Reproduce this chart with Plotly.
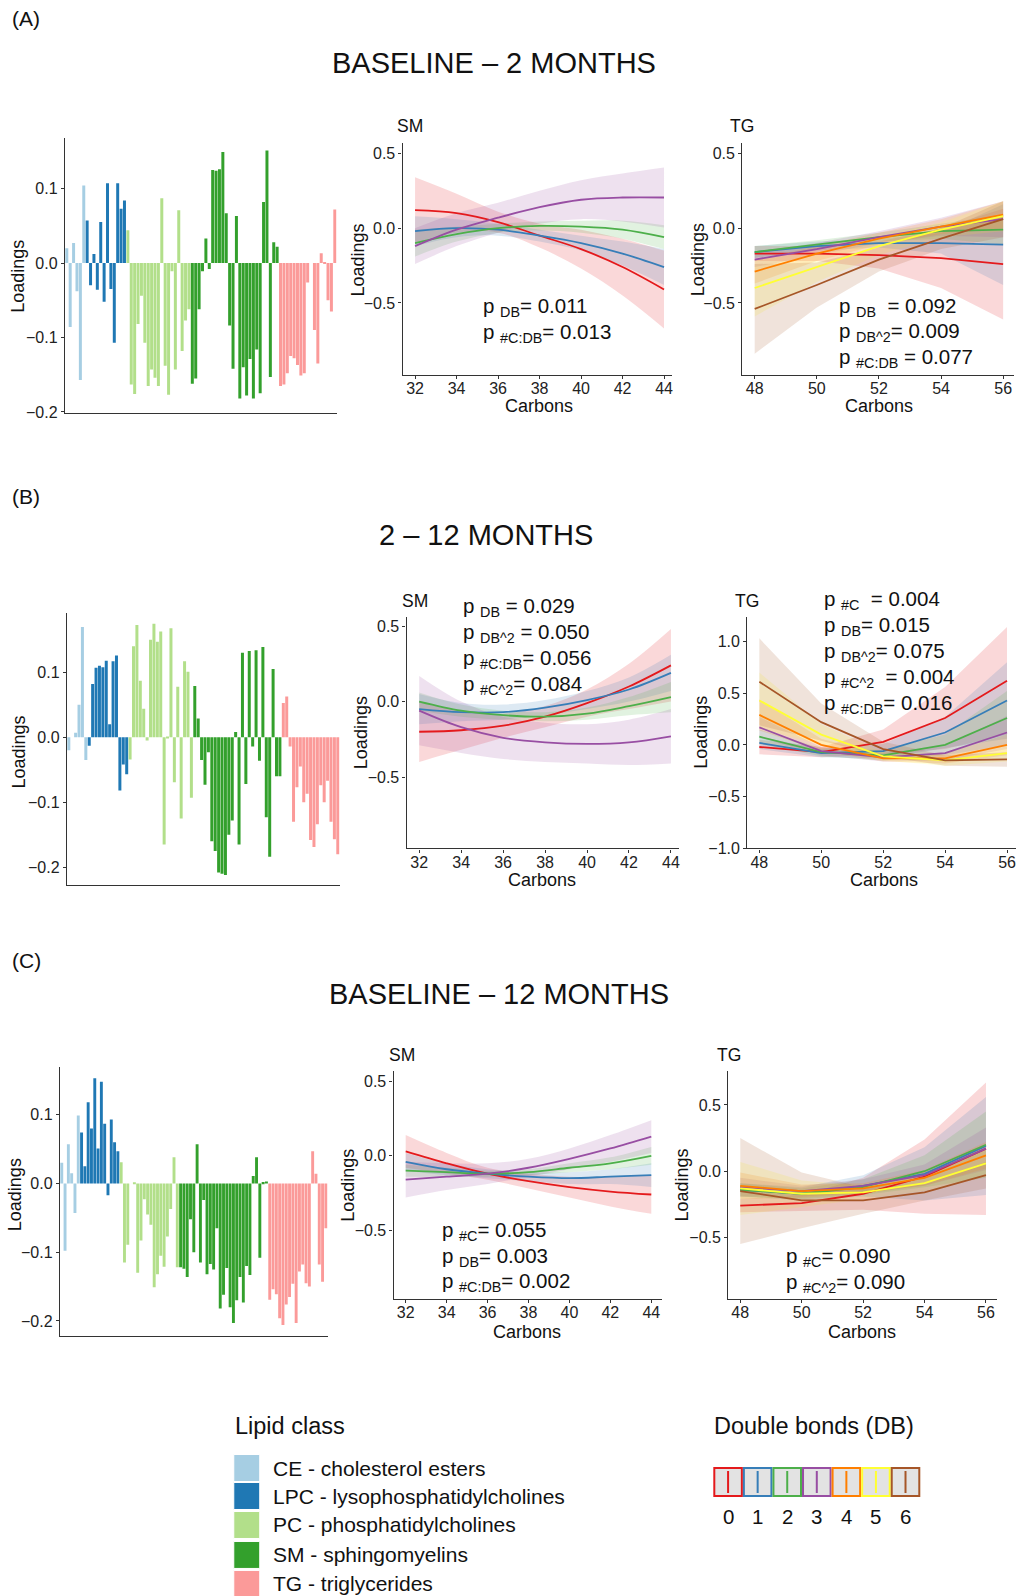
import plotly.graph_objects as go

W, H = 1017, 1596
YS = 1.005  # vertical calibration of pixel positions
FONT = "Liberation Sans, Arial, Helvetica, sans-serif"
AXC = "#333333"

# ---------------- Lipid classes ----------------
CLASS_NAMES = ["CE - cholesterol esters", "LPC - lysophosphatidylcholines",
               "PC - phosphatidylcholines", "SM - sphingomyelins", "TG - triglycerides"]
CLASS_COLORS = ["#A6CEE3", "#1F78B4", "#B2DF8A", "#33A02C", "#FB9A99"]

# ---------------- Bar loadings (A) ----------------
A_CE = [0.02, -0.086, 0.027, -0.038, -0.157, 0.104]
A_LPC = [0.057, -0.03, 0.012, -0.036, 0.055, -0.052, 0.107, -0.035, -0.107, 0.107, 0.073, 0.084]
A_PC = [0.044, -0.163, -0.176, -0.082, -0.044, -0.107, -0.165, -0.143, -0.154, -0.165,
        0.087, -0.138, -0.177, -0.011, -0.143, 0.071, -0.118, -0.077, -0.062]
A_SM = [-0.162, -0.155, -0.062, -0.011, 0.033, -0.008, 0.125, 0.124, 0.126, 0.149, 0.067,
        -0.084, -0.142, 0.063, -0.182, -0.14, -0.178, -0.129, -0.182, -0.116, -0.175,
        0.082, 0.151, -0.153, 0.028, 0.022]
A_TG = [-0.165, -0.163, -0.148, -0.125, -0.128, -0.137, -0.151, -0.148, -0.026, 0.0,
        -0.09, -0.135, 0.013, 0.001, -0.05, -0.065, 0.072]

# ---------------- Bar loadings (B) ----------------
B_CE = [-0.02, 0.0, 0.007, 0.05, 0.17, -0.035]
B_LPC = [-0.013, 0.082, 0.107, 0.11, 0.108, 0.118, 0.02, 0.117, 0.126, -0.082, -0.042, -0.057]
B_PC = [-0.034, 0.14, 0.173, 0.087, 0.044, -0.005, 0.15, 0.175, 0.147, 0.163, -0.165,
        -0.001, 0.168, -0.069, 0.078, -0.125, 0.117, 0.101, -0.093]
B_SM = [0.079, 0.029, -0.035, -0.073, -0.023, -0.16, -0.175, -0.208, -0.21, -0.212, -0.15,
        -0.128, 0.008, -0.165, 0.13, -0.072, 0.133, -0.014, 0.134, -0.036, 0.139, -0.123,
        -0.184, 0.105, -0.06, -0.06]
B_TG = [0.053, 0.063, -0.014, -0.13, -0.077, -0.045, -0.1, -0.087, -0.158, -0.169, -0.134,
        -0.074, -0.1, -0.067, -0.13, -0.157, -0.18]

# ---------------- Bar loadings (C) ----------------
C_CE = [0.03, -0.098, 0.057, 0.015, -0.043, 0.099]
C_LPC = [0.074, 0.025, 0.118, 0.08, 0.153, 0.051, 0.148, 0.087, -0.017, 0.093, 0.06, 0.047]
C_PC = [0.031, -0.115, -0.089, 0.0, 0.001, -0.13, -0.083, -0.023, -0.045, -0.06, -0.151,
        -0.132, -0.105, -0.121, -0.077, -0.037, 0.038, -0.122]
C_SM = [-0.122, -0.124, -0.136, -0.052, -0.1, 0.057, -0.115, -0.024, -0.132, -0.117, -0.125,
        -0.065, -0.182, -0.162, -0.123, -0.18, -0.203, -0.17, -0.136, -0.173, -0.12, -0.133,
        0.011, 0.038, -0.108, 0.002, 0.003]
C_TG = [-0.169, -0.154, -0.161, -0.196, -0.206, -0.176, -0.165, -0.146, -0.203, -0.128,
        -0.118, -0.145, -0.15, 0.047, 0.014, -0.118, -0.143, -0.065]

# ---------------- Fitted curves ----------------
SM_CARBONS = [32, 34, 36, 38, 40, 42, 44]
TG_CARBONS = [48, 50, 52, 54, 56]
DB_LABELS = ["0", "1", "2", "3", "4", "5", "6"]
DB_COLORS = ["#E41A1C", "#377EB8", "#4DAF4A", "#984EA3", "#FF7F00", "#FFFF33", "#A65628"]

A_SM_FIT = [[0.12, 0.10, 0.04, -0.05, -0.14, -0.26, -0.41],
            [-0.02, 0.0, -0.01, -0.05, -0.10, -0.17, -0.26],
            [-0.10, -0.04, 0.0, 0.015, 0.01, -0.01, -0.06],
            [-0.12, -0.01, 0.07, 0.14, 0.19, 0.205, 0.205]]
A_SM_HW = [[0.22, 0.13, 0.07, 0.08, 0.13, 0.19, 0.26],
           [0.10, 0.06, 0.04, 0.04, 0.05, 0.08, 0.12],
           [0.09, 0.05, 0.03, 0.03, 0.04, 0.06, 0.08],
           [0.12, 0.11, 0.10, 0.11, 0.13, 0.16, 0.20]]
A_TG_FIT = [[-0.17, -0.17, -0.18, -0.20, -0.24],
            [-0.16, -0.12, -0.10, -0.10, -0.11],
            [-0.16, -0.11, -0.06, -0.02, -0.01],
            [-0.21, -0.14, -0.06, 0.01, 0.06],
            [-0.29, -0.17, -0.07, 0.01, 0.09],
            [-0.40, -0.26, -0.12, -0.01, 0.08],
            [-0.54, -0.38, -0.21, -0.07, 0.06]]
A_TG_HW = [[0.05, 0.05, 0.09, 0.20, 0.37],
           [0.04, 0.03, 0.03, 0.07, 0.27],
           [0.04, 0.03, 0.03, 0.05, 0.10],
           [0.05, 0.04, 0.04, 0.06, 0.12],
           [0.08, 0.05, 0.04, 0.05, 0.09],
           [0.19, 0.10, 0.06, 0.05, 0.10],
           [0.30, 0.15, 0.08, 0.07, 0.12]]

B_SM_FIT = [[-0.20, -0.19, -0.16, -0.10, -0.01, 0.10, 0.24],
            [-0.05, -0.07, -0.07, -0.04, 0.01, 0.08, 0.19],
            [0.0, -0.06, -0.09, -0.10, -0.08, -0.03, 0.03],
            [-0.06, -0.17, -0.24, -0.27, -0.28, -0.27, -0.23]]
B_SM_HW = [[0.20, 0.13, 0.08, 0.07, 0.09, 0.15, 0.24],
           [0.10, 0.06, 0.05, 0.05, 0.06, 0.08, 0.12],
           [0.06, 0.04, 0.03, 0.03, 0.04, 0.06, 0.10],
           [0.23, 0.17, 0.14, 0.13, 0.13, 0.15, 0.18]]
B_TG_FIT = [[-0.02, -0.07, 0.03, 0.26, 0.62],
            [0.02, -0.08, -0.06, 0.12, 0.43],
            [0.08, -0.07, -0.10, 0.0, 0.26],
            [0.17, -0.06, -0.12, -0.08, 0.12],
            [0.29, 0.0, -0.13, -0.13, 0.0],
            [0.43, 0.10, -0.11, -0.15, -0.08],
            [0.61, 0.22, -0.04, -0.15, -0.14]]
B_TG_HW = [[0.07, 0.05, 0.12, 0.30, 0.52],
           [0.06, 0.04, 0.07, 0.15, 0.37],
           [0.07, 0.04, 0.05, 0.10, 0.26],
           [0.10, 0.04, 0.04, 0.07, 0.16],
           [0.15, 0.06, 0.03, 0.05, 0.10],
           [0.27, 0.10, 0.04, 0.05, 0.08],
           [0.42, 0.18, 0.07, 0.05, 0.07]]

C_SM_FIT = [[0.03, -0.05, -0.12, -0.17, -0.21, -0.24, -0.26],
            [-0.04, -0.09, -0.12, -0.14, -0.15, -0.14, -0.13],
            [-0.10, -0.11, -0.12, -0.11, -0.08, -0.05, 0.0],
            [-0.16, -0.14, -0.12, -0.08, -0.02, 0.05, 0.13]]
C_SM_HW = [[0.11, 0.07, 0.04, 0.05, 0.07, 0.10, 0.13],
           [0.06, 0.04, 0.03, 0.03, 0.04, 0.05, 0.08],
           [0.04, 0.03, 0.02, 0.02, 0.03, 0.04, 0.06],
           [0.12, 0.09, 0.07, 0.06, 0.07, 0.09, 0.11]]
C_TG_FIT = [[-0.26, -0.24, -0.17, -0.04, 0.17],
            [-0.14, -0.17, -0.11, -0.02, 0.19],
            [-0.14, -0.17, -0.12, 0.0, 0.20],
            [-0.12, -0.15, -0.11, -0.03, 0.17],
            [-0.11, -0.15, -0.13, -0.05, 0.12],
            [-0.13, -0.17, -0.16, -0.09, 0.06],
            [-0.15, -0.22, -0.22, -0.16, -0.03]]
C_TG_HW = [[0.05, 0.06, 0.12, 0.28, 0.50],
           [0.05, 0.05, 0.08, 0.20, 0.37],
           [0.05, 0.04, 0.06, 0.12, 0.25],
           [0.07, 0.04, 0.05, 0.08, 0.16],
           [0.10, 0.05, 0.04, 0.06, 0.10],
           [0.20, 0.10, 0.05, 0.06, 0.10],
           [0.40, 0.21, 0.10, 0.06, 0.10]]

# ---------------- Texts ----------------
ROW_LABELS = ["(A)", "(B)", "(C)"]
ROW_TITLES = ["BASELINE \u2013 2 MONTHS", "2 \u2013 12 MONTHS", "BASELINE \u2013 12 MONTHS"]
A_SM_P = ["p <sub>DB</sub>= 0.011", "p <sub>#C:DB</sub>= 0.013"]
A_TG_P = ["p <sub>DB</sub>  = 0.092", "p <sub>DB^2</sub>= 0.009", "p <sub>#C:DB</sub> = 0.077"]
B_SM_P = ["p <sub>DB</sub> = 0.029", "p <sub>DB^2</sub> = 0.050", "p <sub>#C:DB</sub>= 0.056",
          "p <sub>#C^2</sub>= 0.084"]
B_TG_P = ["p <sub>#C</sub>  = 0.004", "p <sub>DB</sub>= 0.015", "p <sub>DB^2</sub>= 0.075",
          "p <sub>#C^2</sub>  = 0.004", "p <sub>#C:DB</sub>= 0.016"]
C_SM_P = ["p <sub>#C</sub>= 0.055", "p <sub>DB</sub>= 0.003", "p <sub>#C:DB</sub>= 0.002"]
C_TG_P = ["p <sub>#C</sub>= 0.090", "p <sub>#C^2</sub>= 0.090"]


def minus(v, fmt):
    return fmt.format(v).replace("-", "\u2212")


def rgba(hexc, a):
    h = hexc.lstrip("#")
    return "rgba(%d,%d,%d,%.2f)" % (int(h[0:2], 16), int(h[2:4], 16), int(h[4:6], 16), a)


def py(y):
    return 1 - (y * YS) / H


fig = go.Figure()
layout = dict(width=W, height=H, margin=dict(l=0, r=0, t=0, b=0, pad=0),
              paper_bgcolor="white", plot_bgcolor="white", showlegend=False,
              font=dict(family=FONT, color="#222"), bargap=0.12)
annotations = []
shapes = []
TICKFONT = dict(size=16, color="#222", family=FONT)


def add_axes(idx, box, xr, yr, yticks, yfmt, xticks=None):
    l, r, t, b = box
    xs = "xaxis" if idx == 1 else "xaxis%d" % idx
    ys = "yaxis" if idx == 1 else "yaxis%d" % idx
    ax = dict(domain=[l / W, r / W], range=xr, showgrid=False, zeroline=False,
              showline=True, linecolor=AXC, linewidth=1.3,
              anchor="y" if idx == 1 else "y%d" % idx)
    if xticks is None:
        ax.update(showticklabels=False, ticks="")
    else:
        ax.update(tickvals=xticks, ticktext=[str(v) for v in xticks], ticks="outside",
                  ticklen=3, tickcolor=AXC, tickwidth=1.1, tickfont=TICKFONT,
                  ticklabelstandoff=-4)
    ay = dict(domain=[py(b), py(t)], range=yr, showgrid=False, zeroline=False,
              showline=True, linecolor=AXC, linewidth=1.3,
              anchor="x" if idx == 1 else "x%d" % idx,
              tickvals=yticks, ticktext=[minus(v, yfmt) for v in yticks],
              ticks="outside", ticklen=3, tickcolor=AXC, tickwidth=1.1, tickfont=TICKFONT)
    layout[xs] = ax
    layout[ys] = ay
    return ("x" if idx == 1 else "x%d" % idx), ("y" if idx == 1 else "y%d" % idx)


def text(x, y, s, size, xanchor="center", yanchor="middle", angle=0):
    annotations.append(dict(x=x / W, y=py(y), xref="paper", yref="paper", text=s,
                            showarrow=False, xanchor=xanchor, yanchor=yanchor, textangle=angle,
                            font=dict(size=size, family=FONT, color="#111")))


def bar_panel(idx, box, yr, yticks, groups, ylab_pos):
    xa, ya = add_axes(idx, box, None, yr, yticks, "{:.1f}")
    start = 1
    for vals, col in zip(groups, CLASS_COLORS):
        xs = list(range(start, start + len(vals)))
        fig.add_trace(go.Bar(x=xs, y=vals, marker=dict(color=col, line=dict(width=0)),
                             xaxis=xa, yaxis=ya))
        start += len(vals)
    layout["xaxis" if idx == 1 else "xaxis%d" % idx]["range"] = [0.45, start - 0.45]
    text(ylab_pos[0], ylab_pos[1], "Loadings", 18, angle=-90)


def curve_panel(idx, box, xr, yr, yticks, xs, fits, hws, smooth, title, title_pos,
                ylab_pos, xlab_pos, ptexts, p_pos, p_step):
    xa, ya = add_axes(idx, box, xr, yr, yticks, "{:.1f}", xticks=xs)
    shape = "spline" if smooth else "linear"
    for k, (fit, hw) in enumerate(zip(fits, hws)):
        col = DB_COLORS[k]
        lo = [f - h for f, h in zip(fit, hw)]
        up = [f + h for f, h in zip(fit, hw)]
        fig.add_trace(go.Scatter(x=xs, y=lo, mode="lines", line=dict(width=0, shape=shape),
                                 xaxis=xa, yaxis=ya, hoverinfo="skip"))
        fig.add_trace(go.Scatter(x=xs, y=up, mode="lines", line=dict(width=0, shape=shape),
                                 fill="tonexty", fillcolor=rgba(col, 0.17),
                                 xaxis=xa, yaxis=ya, hoverinfo="skip"))
    for k, fit in enumerate(fits):
        fig.add_trace(go.Scatter(x=xs, y=fit, mode="lines",
                                 line=dict(width=1.8, color=DB_COLORS[k], shape=shape),
                                 xaxis=xa, yaxis=ya))
    text(title_pos[0], title_pos[1], title, 17.5, xanchor="left")
    text(ylab_pos[0], ylab_pos[1], "Loadings", 18, angle=-90)
    text(xlab_pos[0], xlab_pos[1], "Carbons", 18)
    for i, s in enumerate(ptexts):
        text(p_pos[0], p_pos[1] + i * p_step, s, 20.5, xanchor="left")


# ---------- Row A ----------
text(10, 19, ROW_LABELS[0], 21, xanchor="left")
text(494, 63, ROW_TITLES[0], 29)
bar_panel(1, (65, 337, 138, 413), [-0.201, 0.168], [-0.2, -0.1, 0.0, 0.1],
          [A_CE, A_LPC, A_PC, A_SM, A_TG], (18, 276))
curve_panel(2, (403, 673, 143, 375), [31.4, 44.4], [-0.98, 0.57], [-0.5, 0.0, 0.5],
            SM_CARBONS, A_SM_FIT, A_SM_HW, True, "SM", (395, 126), (358, 260), (540, 406),
            A_SM_P, (481, 307), 26)
curve_panel(3, (743, 1015, 143, 375), [47.6, 56.35], [-0.98, 0.57], [-0.5, 0.0, 0.5],
            TG_CARBONS, A_TG_FIT, A_TG_HW, False, "TG", (729, 126), (699, 260), (880, 406),
            A_TG_P, (838, 307), 25.5)

# ---------- Row B ----------
text(10, 497, ROW_LABELS[1], 21, xanchor="left")
text(486, 535, ROW_TITLES[1], 29)
bar_panel(4, (67, 340, 613, 886), [-0.228, 0.192], [-0.2, -0.1, 0.0, 0.1],
          [B_CE, B_LPC, B_PC, B_SM, B_TG], (20, 752))
curve_panel(5, (407, 680, 617, 849), [31.4, 44.4], [-0.973, 0.563], [-0.5, 0.0, 0.5],
            SM_CARBONS, B_SM_FIT, B_SM_HW, True, "SM", (400, 601), (361, 733), (543, 881),
            B_SM_P, (461, 607), 26)
curve_panel(6, (748, 1017, 617, 849), [47.61, 56.29], [-1.0, 1.24],
            [-1.0, -0.5, 0.0, 0.5, 1.0], TG_CARBONS, B_TG_FIT, B_TG_HW, False, "TG",
            (734, 601), (701, 733), (885, 881), B_TG_P, (823, 600), 26)

# ---------- Row C ----------
text(10, 961, ROW_LABELS[2], 21, xanchor="left")
text(499, 995, ROW_TITLES[2], 29)
bar_panel(7, (60, 328, 1068, 1337), [-0.222, 0.169], [-0.2, -0.1, 0.0, 0.1],
          [C_CE, C_LPC, C_PC, C_SM, C_TG], (15, 1195))
curve_panel(8, (394, 663, 1072, 1300), [31.41, 44.54], [-0.964, 0.569], [-0.5, 0.0, 0.5],
            SM_CARBONS, C_SM_FIT, C_SM_HW, True, "SM", (387, 1056), (349, 1186), (528, 1333),
            C_SM_P, (440, 1232), 25.5)
curve_panel(9, (729, 998, 1072, 1300), [47.61, 56.36], [-0.965, 0.754], [-0.5, 0.0, 0.5],
            TG_CARBONS, C_TG_FIT, C_TG_HW, False, "TG", (716, 1056), (683, 1186), (863, 1333),
            C_TG_P, (785, 1258), 25.5)

# ---------- Legends ----------
text(233, 1427, "Lipid class", 23.5, xanchor="left")
leg_rows = [1469, 1497, 1526, 1556, 1585]
for name, col, yc in zip(CLASS_NAMES, CLASS_COLORS, leg_rows):
    shapes.append(dict(type="rect", xref="paper", yref="paper",
                       x0=234 / W, x1=260 / W, y0=py(yc + 13.5), y1=py(yc - 13.5),
                       fillcolor=col, line=dict(color="white", width=1)))
    text(271, yc, name, 21, xanchor="left")

text(713, 1427, "Double bonds (DB)", 23.5, xanchor="left")
bx0, bw = 714, 29.6
for k, (lab, col) in enumerate(zip(DB_LABELS, DB_COLORS)):
    x0 = bx0 + k * bw
    shapes.append(dict(type="rect", xref="paper", yref="paper",
                       x0=(x0 + 1) / W, x1=(x0 + bw - 1) / W, y0=py(1497), y1=py(1469),
                       fillcolor="#E3E3E3", line=dict(color=col, width=2)))
    shapes.append(dict(type="line", xref="paper", yref="paper",
                       x0=(x0 + bw / 2) / W, x1=(x0 + bw / 2) / W, y0=py(1494), y1=py(1472),
                       line=dict(color=col, width=2)))
    text(x0 + bw / 2, 1518, lab, 20.5)

layout["annotations"] = annotations
layout["shapes"] = shapes
fig.update_layout(**layout)
fig.write_html("out.html")
